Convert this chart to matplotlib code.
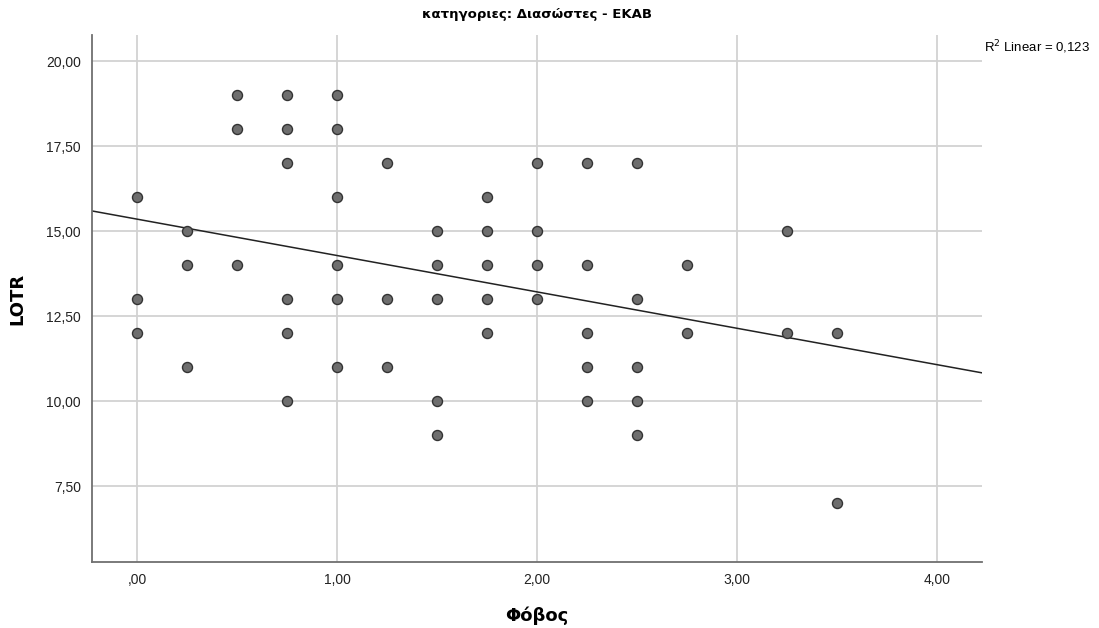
import matplotlib
matplotlib.use("Agg")
import matplotlib.pyplot as plt
import numpy as np

fobos = [0, 0, 0,
         0.25, 0.25, 0.25,
         0.5, 0.5, 0.5,
         0.75, 0.75, 0.75, 0.75, 0.75, 0.75,
         1, 1, 1, 1, 1, 1,
         1.25, 1.25, 1.25,
         1.5, 1.5, 1.5, 1.5, 1.5,
         1.75, 1.75, 1.75, 1.75, 1.75,
         2, 2, 2, 2,
         2.25, 2.25, 2.25, 2.25, 2.25,
         2.5, 2.5, 2.5, 2.5, 2.5,
         2.75, 2.75,
         3.25, 3.25,
         3.5, 3.5]
lotr = [16, 13, 12,
        15, 14, 11,
        19, 18, 14,
        19, 18, 17, 13, 12, 10,
        19, 18, 16, 14, 13, 11,
        17, 13, 11,
        15, 14, 13, 10, 9,
        16, 15, 14, 13, 12,
        17, 15, 14, 13,
        17, 14, 12, 11, 10,
        17, 13, 11, 10, 9,
        14, 12,
        15, 12,
        12, 7]

# fit line as shown
intercept = 15.35
slope = -1.07
r2_text = "R$^2$ Linear = 0,123"

xticks = [0, 1, 2, 3, 4]
xticklabels = [",00", "1,00", "2,00", "3,00", "4,00"]
yticks = [7.5, 10, 12.5, 15, 17.5, 20]
yticklabels = ["7,50", "10,00", "12,50", "15,00", "17,50", "20,00"]

plt.rcParams['font.family'] = ['Liberation Sans', 'DejaVu Sans']

fig = plt.figure(figsize=(10.99, 6.28), dpi=100)
ax = fig.add_axes([0.0837, 0.105, 0.8099, 0.839])

xmin, xmax = -0.225, 4.225
ymin, ymax = 5.265, 20.76

ax.set_xlim(xmin, xmax)
ax.set_ylim(ymin, ymax)

for x in xticks:
    ax.axvline(x, color="#d2d2d2", lw=1.3, zorder=0)
for y in yticks:
    ax.axhline(y, color="#d2d2d2", lw=1.3, zorder=0)

xs = np.array([xmin, xmax])
ax.plot(xs, intercept + slope * xs, color="#222222", lw=1.1, zorder=2)

ax.scatter(fobos, lotr, s=52, facecolor="#6e6e6e", edgecolor="#333333",
           linewidth=1.0, zorder=3)

for side in ["top", "right"]:
    ax.spines[side].set_visible(False)
for side in ["left", "bottom"]:
    ax.spines[side].set_color("#707070")
    ax.spines[side].set_linewidth(1.3)

ax.set_xticks(xticks)
ax.set_xticklabels(xticklabels)
ax.set_yticks(yticks)
ax.set_yticklabels(yticklabels)
ax.tick_params(length=0, labelsize=10, colors="#222222", pad=8)

ax.set_xlabel("Φόβος", fontsize=13, fontweight="bold", family="DejaVu Sans",
              labelpad=14)
ax.set_ylabel("LOTR", fontsize=13, fontweight="bold", family="DejaVu Sans",
              labelpad=14)

fig.text(0.4886, 0.977, "κατηγοριες: Διασώστες - ΕΚΑΒ", ha="center", va="center",
         fontsize=9.5, fontweight="bold", family="DejaVu Sans")
fig.text(0.895, 0.925, r2_text, ha="left", va="center", fontsize=9.5)

fig.savefig("out.png", dpi=100)
